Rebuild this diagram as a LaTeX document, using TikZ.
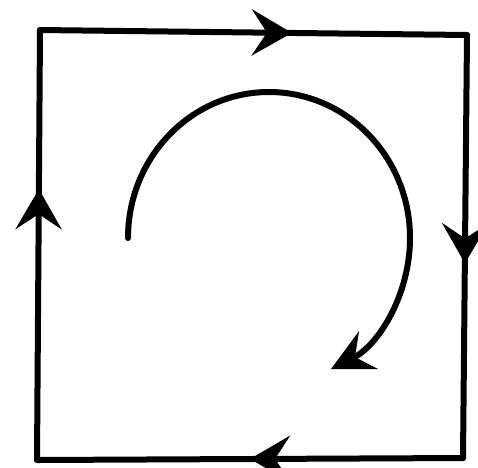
\documentclass[tikz,border=0pt]{standalone}
\usetikzlibrary{arrows.meta,decorations.markings}
\tikzset{
  edge/.style={line width=6pt, line join=round, line cap=round},
  arrowat/.style={postaction={decorate},
    decoration={markings,mark=at position #1 with {\arrow{Stealth[length=40pt,width=46pt,inset=15pt]}}}}
}
\begin{document}
\begin{tikzpicture}[x=1pt,y=-1pt]
  \useasboundingbox (0,0) rectangle (478,467);
  % corners of the loop
  \coordinate (tl) at (40,30);
  \coordinate (tr) at (467,35);
  \coordinate (br) at (463,458);
  \coordinate (bl) at (37,460);
  \draw[edge, arrowat=0.59] (tl)--(tr);
  \draw[edge, arrowat=0.54] (tr)--(br);
  \draw[edge, arrowat=0.50] (br)--(bl);
  \draw[edge, arrowat=0.63] (bl)--(tl);
  % inner circulation
  \coordinate (start) at (128,238);
  \draw[edge, -{Stealth[length=42pt,width=42pt,inset=15pt]}] (start) arc[start angle=180, end angle=424, x radius=141, y radius=146];
\end{tikzpicture}
\end{document}
